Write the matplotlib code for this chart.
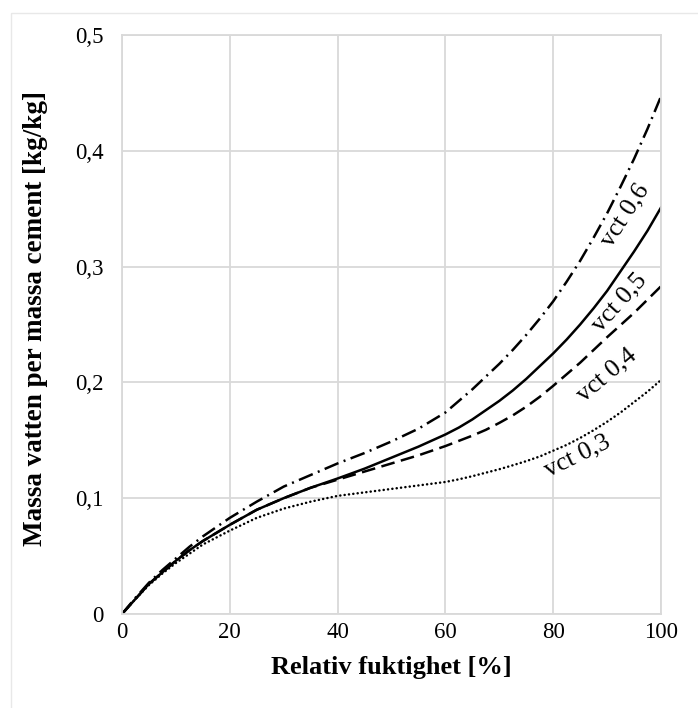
import matplotlib.pyplot as plt
from matplotlib.patches import Rectangle

plt.rcParams['font.family'] = ['Liberation Serif', 'DejaVu Serif']

rh = [0, 2.5, 5, 7.5, 10, 12.5, 15, 17.5, 20, 25, 30, 35, 40, 45, 50, 55,
      60, 62.5, 65, 67.5, 70, 72.5, 75, 77.5, 80, 82.5, 85, 87.5, 90, 92.5, 95, 97.5, 100]

vct03 = [0, 0.013, 0.025, 0.035, 0.044, 0.052, 0.060, 0.066, 0.072, 0.083, 0.091, 0.097,
         0.102, 0.105, 0.108, 0.111,
         0.114, 0.1163, 0.119, 0.122, 0.125, 0.1284, 0.132, 0.136, 0.141, 0.146, 0.152,
         0.1587, 0.166, 0.174, 0.183, 0.192, 0.202]
vct04 = [0, 0.013, 0.026, 0.036, 0.046, 0.055, 0.063, 0.070, 0.077, 0.090, 0.100, 0.109,
         0.116, 0.123, 0.130, 0.137,
         0.145, 0.1495, 0.154, 0.159, 0.165, 0.1715, 0.179, 0.1875, 0.197, 0.207, 0.217,
         0.228, 0.239, 0.2495, 0.260, 0.2715, 0.283]
vct05 = [0, 0.013, 0.026, 0.036, 0.046, 0.055, 0.063, 0.070, 0.077, 0.090, 0.100, 0.109,
         0.117, 0.1255, 0.135, 0.1445,
         0.155, 0.161, 0.168, 0.176, 0.184, 0.193, 0.203, 0.214, 0.225, 0.237, 0.250,
         0.264, 0.279, 0.296, 0.313, 0.331, 0.351]
vct06 = [0, 0.014, 0.027, 0.038, 0.048, 0.058, 0.067, 0.075, 0.083, 0.097, 0.110, 0.120,
         0.130, 0.139, 0.149, 0.160,
         0.174, 0.184, 0.194, 0.205, 0.216, 0.228, 0.241, 0.255, 0.270, 0.287, 0.305,
         0.325, 0.346, 0.369, 0.393, 0.419, 0.447]

labels = ['vct 0,3', 'vct 0,4', 'vct 0,5', 'vct 0,6']

fig = plt.figure(figsize=(6.98, 7.08), dpi=100)
ax = fig.add_axes([0.1748, 0.1328, 0.7722, 0.8178])

# faint chart-area border like the original
fig.patches.append(Rectangle((11 / 698, -0.05), 1.0, 1 - 13 / 708 + 0.05,
                             transform=fig.transFigure, fill=False,
                             edgecolor='#e8e8e8', linewidth=1.0))

lw = 1.8
ax.plot(rh, vct03, color='black', lw=lw, dashes=(0.05, 1.7), dash_capstyle='round')
ax.plot(rh, vct04, color='black', lw=lw, dashes=(5.5, 2.6))
ax.plot(rh, vct05, color='black', lw=lw, linestyle='-')
ax.plot(rh, vct06, color='black', lw=lw, dashes=(6, 2.2, 0.8, 2.2))

# curve labels
ax.text(84.4, 0.136, labels[0], rotation=26, ha='center', va='center', fontsize=18.5)
ax.text(89.9, 0.206, labels[1], rotation=40, ha='center', va='center', fontsize=18.5)
ax.text(92.2, 0.269, labels[2], rotation=48, ha='center', va='center', fontsize=18.5)
ax.text(93.4, 0.344, labels[3], rotation=57, ha='center', va='center', fontsize=18.5)

ax.set_xlim(0, 100)
ax.set_ylim(0, 0.5)
ax.set_xticks([0, 20, 40, 60, 80, 100])
ax.set_yticks([0, 0.1, 0.2, 0.3, 0.4, 0.5])
ax.set_yticklabels(['0', '0,1', '0,2', '0,3', '0,4', '0,5'])
ax.tick_params(axis='both', length=0, labelsize=16.5)
ax.tick_params(axis='y', pad=13.5)
ax.tick_params(axis='x', pad=6)

ax.grid(True, color='#d9d9d9', linewidth=1.3)
ax.set_axisbelow(True)
for s in ax.spines.values():
    s.set_color('#d9d9d9')
    s.set_linewidth(1.3)

ax.set_xlabel('Relativ fuktighet [%]', fontsize=19, fontweight='bold')
ax.set_ylabel('Massa vatten per massa cement [kg/kg]', fontsize=19.5, fontweight='bold')
ax.xaxis.set_label_coords(0.5, -0.072)
ax.yaxis.set_label_coords(-0.138, 0.51)

fig.savefig('out.png', dpi=100)
plt.close()
